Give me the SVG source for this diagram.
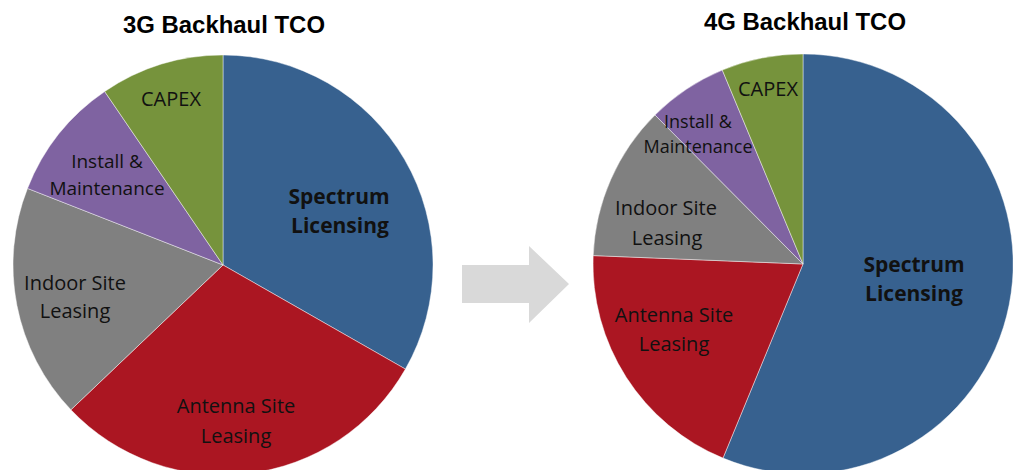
<svg xmlns="http://www.w3.org/2000/svg" width="1013" height="470" viewBox="0 0 1013 470">
<style>
.title{font-family:"Liberation Sans",Arial,sans-serif;font-weight:bold;font-size:23px;fill:#000;text-anchor:middle}
.lbl{font-family:"Open Sans","Noto Sans",sans-serif;font-size:20px;fill:#111;text-anchor:middle}
.bold{font-weight:bold;font-size:21px}
.sl{stroke:#ffffff;stroke-opacity:0.55;stroke-width:0.8}
.blue{fill:#37618F}.red{fill:#AB1622}.grey{fill:#808080}.purple{fill:#7F63A1}.green{fill:#76933C}
</style>
<rect width="1013" height="470" fill="#ffffff"/>
<text class="title" x="224" y="33" textLength="202" lengthAdjust="spacingAndGlyphs">3G Backhaul TCO</text>
<text class="title" x="805" y="30" textLength="202" lengthAdjust="spacingAndGlyphs">4G Backhaul TCO</text>
<g id="pie3g">
<g id="g3-spectrum"><path class="blue sl" d="M223,265 L223,55 A210,210 0 0 1 405.4,369.1 Z"/>
<text class="lbl bold" x="339" y="204">Spectrum</text><text class="lbl bold" x="340" y="233">Licensing</text></g>
<g id="g3-antenna"><path class="red sl" d="M223,265 L405.4,369.1 A210,210 0 0 1 70.9,409.8 Z"/>
<text class="lbl" x="236" y="413">Antenna Site</text><text class="lbl" x="236" y="443">Leasing</text></g>
<g id="g3-indoor"><path class="grey sl" d="M223,265 L70.9,409.8 A210,210 0 0 1 27.5,188.4 Z"/>
<text class="lbl" x="75" y="290">Indoor Site</text><text class="lbl" x="75" y="318">Leasing</text></g>
<g id="g3-install"><path class="purple sl" d="M223,265 L27.5,188.4 A210,210 0 0 1 104.7,91.5 Z"/>
<text class="lbl" x="107" y="168" style="font-size:19px">Install &amp;</text><text class="lbl" x="107" y="195" style="font-size:19px">Maintenance</text></g>
<g id="g3-capex"><path class="green sl" d="M223,265 L104.7,91.5 A210,210 0 0 1 223,55 Z"/>
<text class="lbl" x="171" y="106">CAPEX</text></g>
</g>
<g id="connectors">
<path id="arrow" d="M462,265 L529,265 L529,246 L569,284 L529,323 L529,303 L462,303 Z" fill="#D9D9D9"/>
</g>
<g id="pie4g">
<g id="g4-spectrum"><path class="blue sl" d="M803,264 L803,54 A210,210 0 1 1 723,458.1 Z"/>
<text class="lbl bold" x="914" y="272">Spectrum</text><text class="lbl bold" x="914" y="301">Licensing</text></g>
<g id="g4-antenna"><path class="red sl" d="M803,264 L723,458.1 A210,210 0 0 1 593.2,255.6 Z"/>
<text class="lbl" x="674" y="322">Antenna Site</text><text class="lbl" x="674" y="351">Leasing</text></g>
<g id="g4-indoor"><path class="grey sl" d="M803,264 L593.2,255.6 A210,210 0 0 1 655,115 Z"/>
<text class="lbl" x="666" y="215">Indoor Site</text><text class="lbl" x="667" y="245">Leasing</text></g>
<g id="g4-install"><path class="purple sl" d="M803,264 L655,115 A210,210 0 0 1 722.3,70.1 Z"/>
<text class="lbl" x="698" y="128" style="font-size:18px">Install &amp;</text><text class="lbl" x="698" y="153" style="font-size:18px">Maintenance</text></g>
<g id="g4-capex"><path class="green sl" d="M803,264 L722.3,70.1 A210,210 0 0 1 803,54 Z"/>
<text class="lbl" x="768" y="96">CAPEX</text></g>
</g>
</svg>
